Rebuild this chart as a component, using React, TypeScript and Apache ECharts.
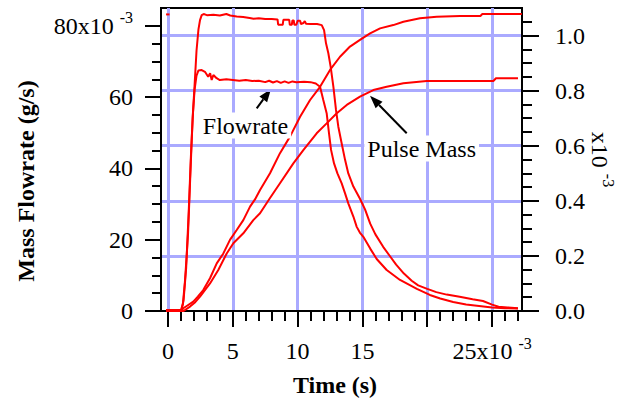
import React, { useEffect, useRef } from 'react';
import * as echarts from 'echarts';

// ---- tick values ----
const timeMajorTicks = [0, 5, 10, 15, 20, 25];
const timeLabelTicks = [0, 5, 10, 15, 25];
const timeMinorTicks = [1, 2, 3, 4, 6, 7, 8, 9, 11, 12, 13, 14, 16, 17, 18, 19, 21, 22, 23, 24, 26, 27];
const flowMajorTicks = [0, 20, 40, 60, 80];
const flowMinorTicks = [5, 10, 15, 25, 30, 35, 45, 50, 55, 65, 70, 75];
const massMajorTicks = [0, 0.2, 0.4, 0.6, 0.8, 1.0];
const massMinorTicks = [0.05, 0.1, 0.15, 0.25, 0.3, 0.35, 0.45, 0.5, 0.55, 0.65, 0.7, 0.75, 0.85, 0.9, 0.95, 1.05];
const massGridTicks = [0.2, 0.4, 0.6, 0.8, 1.0];

// ---- series values: [time (x10^-3 s), value] ----
const flowrateA = [
  [-0.15, 0.3], [0.5, 0.3], [1.0, 0.3], [1.15, 2], [1.3, 8], [1.45, 16], [1.55, 22], [1.7, 36], [1.83, 48],
  [1.93, 56], [2.03, 62], [2.2, 73], [2.35, 79], [2.47, 81.6], [2.6, 83.0], [2.75, 83.3], [3.0, 83.0], [3.5, 83.1],
  [4.0, 82.9], [4.5, 83.3], [4.8, 82.9], [5.3, 82.6], [5.8, 82.5], [6.3, 82.2], [6.6, 82.0], [7.0, 82.1], [7.5, 81.9],
  [8.0, 81.9], [8.45, 81.8], [8.5, 80.3], [8.85, 80.3], [8.9, 81.7], [9.35, 81.7], [9.4, 80.3], [9.55, 80.3],
  [9.6, 81.5], [9.7, 81.5], [9.75, 80.3], [9.9, 80.3], [10.0, 81.4], [10.2, 81.4], [10.25, 80.5], [10.45, 80.8],
  [10.55, 81.3], [10.65, 80.6], [11.0, 80.5], [11.5, 80.5], [11.86, 80.2], [12.04, 78.8], [12.19, 75.1],
  [12.37, 72.3], [12.55, 68.5], [12.76, 62.9], [12.96, 56.4], [13.14, 51.7], [13.4, 47.0], [13.66, 42.4],
  [13.91, 38.6], [14.3, 34.9], [14.81, 31.5], [15.2, 28.5], [15.6, 24.5], [16.0, 21.5], [16.6, 18.0], [17.1, 15.5],
  [17.6, 13.0], [18.2, 10.5], [18.8, 8.5], [19.3, 7.2], [20.0, 6.2], [20.7, 5.3], [21.5, 4.6], [22.5, 4.0],
  [23.5, 3.3], [24.3, 2.8], [25.0, 1.8], [25.5, 1.2], [26.2, 1.0], [27.0, 0.8],
];
const flowrateB = [
  [-0.15, 0.3], [0.5, 0.3], [1.05, 0.3], [1.2, 3], [1.4, 12], [1.6, 28], [1.75, 42], [1.9, 54], [2.05, 62],
  [2.2, 66], [2.35, 67.5], [2.6, 67.6], [2.85, 67.1], [3.1, 65.7], [3.25, 66.7], [3.37, 64.8], [3.5, 66.2],
  [3.75, 65.3], [4.0, 64.8], [4.5, 65.0], [5.0, 64.8], [5.5, 64.6], [6.0, 64.8], [6.5, 64.5], [7.0, 64.6],
  [7.5, 64.2], [7.8, 64.6], [8.1, 64.1], [8.4, 64.5], [8.7, 64.0], [9.0, 64.4], [9.3, 64.0], [9.6, 64.4],
  [9.9, 64.2], [10.5, 64.3], [11.0, 64.2], [11.4, 63.8], [11.73, 62.9], [11.98, 59.2], [12.24, 55.5],
  [12.42, 49.9], [12.58, 45.2], [12.81, 41.4], [13.07, 38.6], [13.4, 35.8], [13.66, 33.0], [13.91, 30.2],
  [14.3, 26.5], [14.56, 23.6], [14.8, 22.0], [15.07, 20.8], [15.6, 17.5], [16.1, 14.6], [16.87, 11.5],
  [17.9, 8.7], [19.2, 6.2], [20.2, 4.5], [21.0, 3.5], [22.0, 2.5], [23.0, 1.8], [24.0, 1.4], [25.0, 1.0],
  [26.0, 0.8], [27.0, 0.7],
];
const flowrateStart = [[-0.15, 83.2], [0.12, 83.2]];
const pulseMassA = [
  [-0.15, 0], [1.0, 0], [1.18, 0.01], [1.5, 0.02], [1.95, 0.034], [2.3, 0.052], [2.72, 0.076], [3.24, 0.119],
  [3.76, 0.173], [4.27, 0.209], [4.78, 0.258], [5.3, 0.294], [5.81, 0.33], [6.33, 0.379], [6.71, 0.405],
  [7.1, 0.439], [7.87, 0.5], [8.64, 0.573], [9.41, 0.633], [10.19, 0.705], [10.96, 0.766], [11.73, 0.814],
  [12.5, 0.875], [13.27, 0.923], [14.04, 0.96], [14.81, 0.984], [15.59, 1.008], [16.36, 1.026], [17.38, 1.038],
  [18.16, 1.05], [19.44, 1.063], [20.73, 1.068], [22.53, 1.071], [24.1, 1.071], [24.25, 1.078], [27.3, 1.078],
];
const pulseMassB = [
  [-0.15, 0], [1.2, 0], [1.7, 0.016], [2.1, 0.032], [2.47, 0.052], [3.24, 0.1], [3.88, 0.149], [4.53, 0.209],
  [5.04, 0.246], [5.81, 0.282], [6.58, 0.33], [7.1, 0.355], [7.87, 0.41], [8.64, 0.464], [9.67, 0.536],
  [10.44, 0.584], [11.47, 0.645], [12.24, 0.681], [13.02, 0.718], [13.79, 0.748], [14.81, 0.778],
  [15.84, 0.802], [16.87, 0.814], [18.16, 0.827], [19.96, 0.835], [22.53, 0.835], [25.1, 0.835],
  [25.3, 0.845], [27.0, 0.845],
];

const FONT = '"Liberation Serif", "Times New Roman", Times, serif';
const RED = '#ff0000';
const GRID_BLUE = '#aaaaff';

const rich = {
  a: { fontSize: 24, fontFamily: FONT, color: '#000', lineHeight: 24 },
  s: { fontSize: 16, fontFamily: FONT, color: '#000', lineHeight: 16, padding: [0, 0, 16, 6] },
};

function arrow(tail: number[], tip: number[]) {
  const dx = tip[0] - tail[0];
  const dy = tip[1] - tail[1];
  const len = Math.sqrt(dx * dx + dy * dy);
  const ux = dx / len, uy = dy / len;
  const hl = 13, hw = 4.8;
  const bx = tip[0] - ux * hl, by = tip[1] - uy * hl;
  const nx = -uy, ny = ux;
  return [
    { type: 'line', shape: { x1: tail[0], y1: tail[1], x2: bx, y2: by }, style: { stroke: '#000', lineWidth: 2 } },
    {
      type: 'polygon',
      shape: { points: [[tip[0], tip[1]], [bx + nx * hw, by + ny * hw], [bx - nx * hw, by - ny * hw]] },
      style: { fill: '#000' },
    },
  ];
}

const tickStyle = { color: '#000', width: 2 };

function lineSeries(data: number[][], yAxisIndex: number) {
  return {
    type: 'line',
    data,
    xAxisIndex: 0,
    yAxisIndex,
    showSymbol: false,
    symbol: 'none',
    smooth: false,
    lineStyle: { color: RED, width: 2 },
    z: 5,
  };
}

export default function App() {
  const ref = useRef<HTMLDivElement>(null);
  useEffect(() => {
    if (!ref.current) return;
    const chart = echarts.init(ref.current, undefined, { renderer: 'svg' });
    const xMin = -0.54, xMax = 27.31;
    const option: any = {
      animation: false,
      backgroundColor: '#ffffff',
      grid: {
        left: 161, right: 106, top: 8, bottom: 91,
        show: true, borderColor: '#000', borderWidth: 2, backgroundColor: 'transparent',
        containLabel: false, outerBoundsMode: 'none',
      },
      xAxis: [
        {
          type: 'value', min: xMin, max: xMax, position: 'bottom',
          axisLine: { show: true, onZero: false, lineStyle: tickStyle },
          axisTick: { show: true, inside: false, length: 16, customValues: timeMajorTicks, lineStyle: tickStyle },
          axisLabel: {
            show: true, customValues: timeLabelTicks, margin: 40, verticalAlign: 'middle',
            fontSize: 24, fontFamily: FONT, color: '#000',
            formatter: (v: number) => (v === 25 ? '{a|25x10}{s|-3}' : '{a|' + v + '}'),
            rich,
          },
          splitLine: { show: true, lineStyle: { color: GRID_BLUE, width: 3 } },
        },
        {
          type: 'value', min: xMin, max: xMax, position: 'bottom',
          axisLine: { show: false, onZero: false },
          axisTick: { show: true, inside: false, length: 10, customValues: timeMinorTicks, lineStyle: tickStyle },
          axisLabel: { show: false },
          splitLine: { show: false },
        },
      ],
      yAxis: [
        {
          type: 'value', min: 0, max: 85, position: 'left',
          axisLine: { show: true, onZero: false, lineStyle: tickStyle },
          axisTick: { show: true, inside: false, length: 16, customValues: flowMajorTicks, lineStyle: tickStyle },
          axisLabel: {
            show: true, customValues: flowMajorTicks, margin: 28,
            fontSize: 24, fontFamily: FONT, color: '#000',
            formatter: (v: number) => (v === 80 ? '{a|80x10}{s|-3}' : '{a|' + v + '}'),
            rich,
          },
          splitLine: { show: false },
        },
        {
          type: 'value', min: 0, max: 85, position: 'left',
          axisLine: { show: false, onZero: false },
          axisTick: { show: true, inside: false, length: 9, customValues: flowMinorTicks, lineStyle: tickStyle },
          axisLabel: { show: false },
          splitLine: { show: false },
        },
        {
          type: 'value', min: 0, max: 1.1, position: 'right',
          axisLine: { show: true, onZero: false, lineStyle: tickStyle },
          axisTick: { show: true, inside: false, length: 17, customValues: massMajorTicks, lineStyle: tickStyle },
          axisLabel: {
            show: true, customValues: massMajorTicks, margin: 33,
            fontSize: 24, fontFamily: FONT, color: '#000',
            formatter: (v: number) => v.toFixed(1),
          },
          splitLine: { show: false },
        },
        {
          type: 'value', min: 0, max: 1.1, position: 'right',
          axisLine: { show: false, onZero: false },
          axisTick: { show: true, inside: false, length: 10, customValues: massMinorTicks, lineStyle: tickStyle },
          axisLabel: { show: false },
          splitLine: { show: false },
        },
        {
          type: 'value', min: 0, max: 1.1, position: 'right',
          axisLine: { show: false, onZero: false },
          axisTick: { show: false, customValues: massGridTicks },
          axisLabel: { show: false },
          splitLine: { show: true, lineStyle: { color: GRID_BLUE, width: 3 } },
        },
      ],
      series: [
        lineSeries(flowrateA, 0),
        lineSeries(flowrateB, 0),
        lineSeries(flowrateStart, 0),
        lineSeries(pulseMassA, 2),
        lineSeries(pulseMassB, 2),
      ],
      graphic: [
        {
          type: 'text', x: 25.5, y: 181, rotation: Math.PI / 2,
          style: {
            text: 'Mass Flowrate (g/s)', fontSize: 24, fontWeight: 'bold', fontFamily: FONT,
            fill: '#000', align: 'center', verticalAlign: 'middle',
          },
        },
        {
          type: 'text', x: 335, y: 385,
          style: {
            text: 'Time (s)', fontSize: 24, fontWeight: 'bold', fontFamily: FONT,
            fill: '#000', align: 'center', verticalAlign: 'middle',
          },
        },
        {
          type: 'text', x: 600, y: 159.5, rotation: -Math.PI / 2,
          style: {
            text: '{a|x10}{s|-3}', rich, fontSize: 24, fontFamily: FONT,
            fill: '#000', align: 'center', verticalAlign: 'middle',
          },
        },
        {
          type: 'text', x: 245.5, y: 125.5, z: 10,
          style: {
            text: 'Flowrate', fontSize: 24, fontFamily: FONT, fill: '#000',
            align: 'center', verticalAlign: 'middle', backgroundColor: '#fff', padding: [1, 3],
          },
        },
        {
          type: 'text', x: 421.7, y: 148.5, z: 10,
          style: {
            text: 'Pulse Mass', fontSize: 24, fontFamily: FONT, fill: '#000',
            align: 'center', verticalAlign: 'middle', backgroundColor: '#fff', padding: [1, 3],
          },
        },
        ...arrow([256.7, 108.3], [271, 89]),
        ...arrow([406.7, 133.3], [370, 95.7]),
      ],
    };
    chart.setOption(option);
    return () => chart.dispose();
  }, []);
  return (
    <div
      ref={ref}
      style={{ position: 'fixed', left: 0, top: 0, width: 628, height: 402, background: '#fff' }}
    />
  );
}
